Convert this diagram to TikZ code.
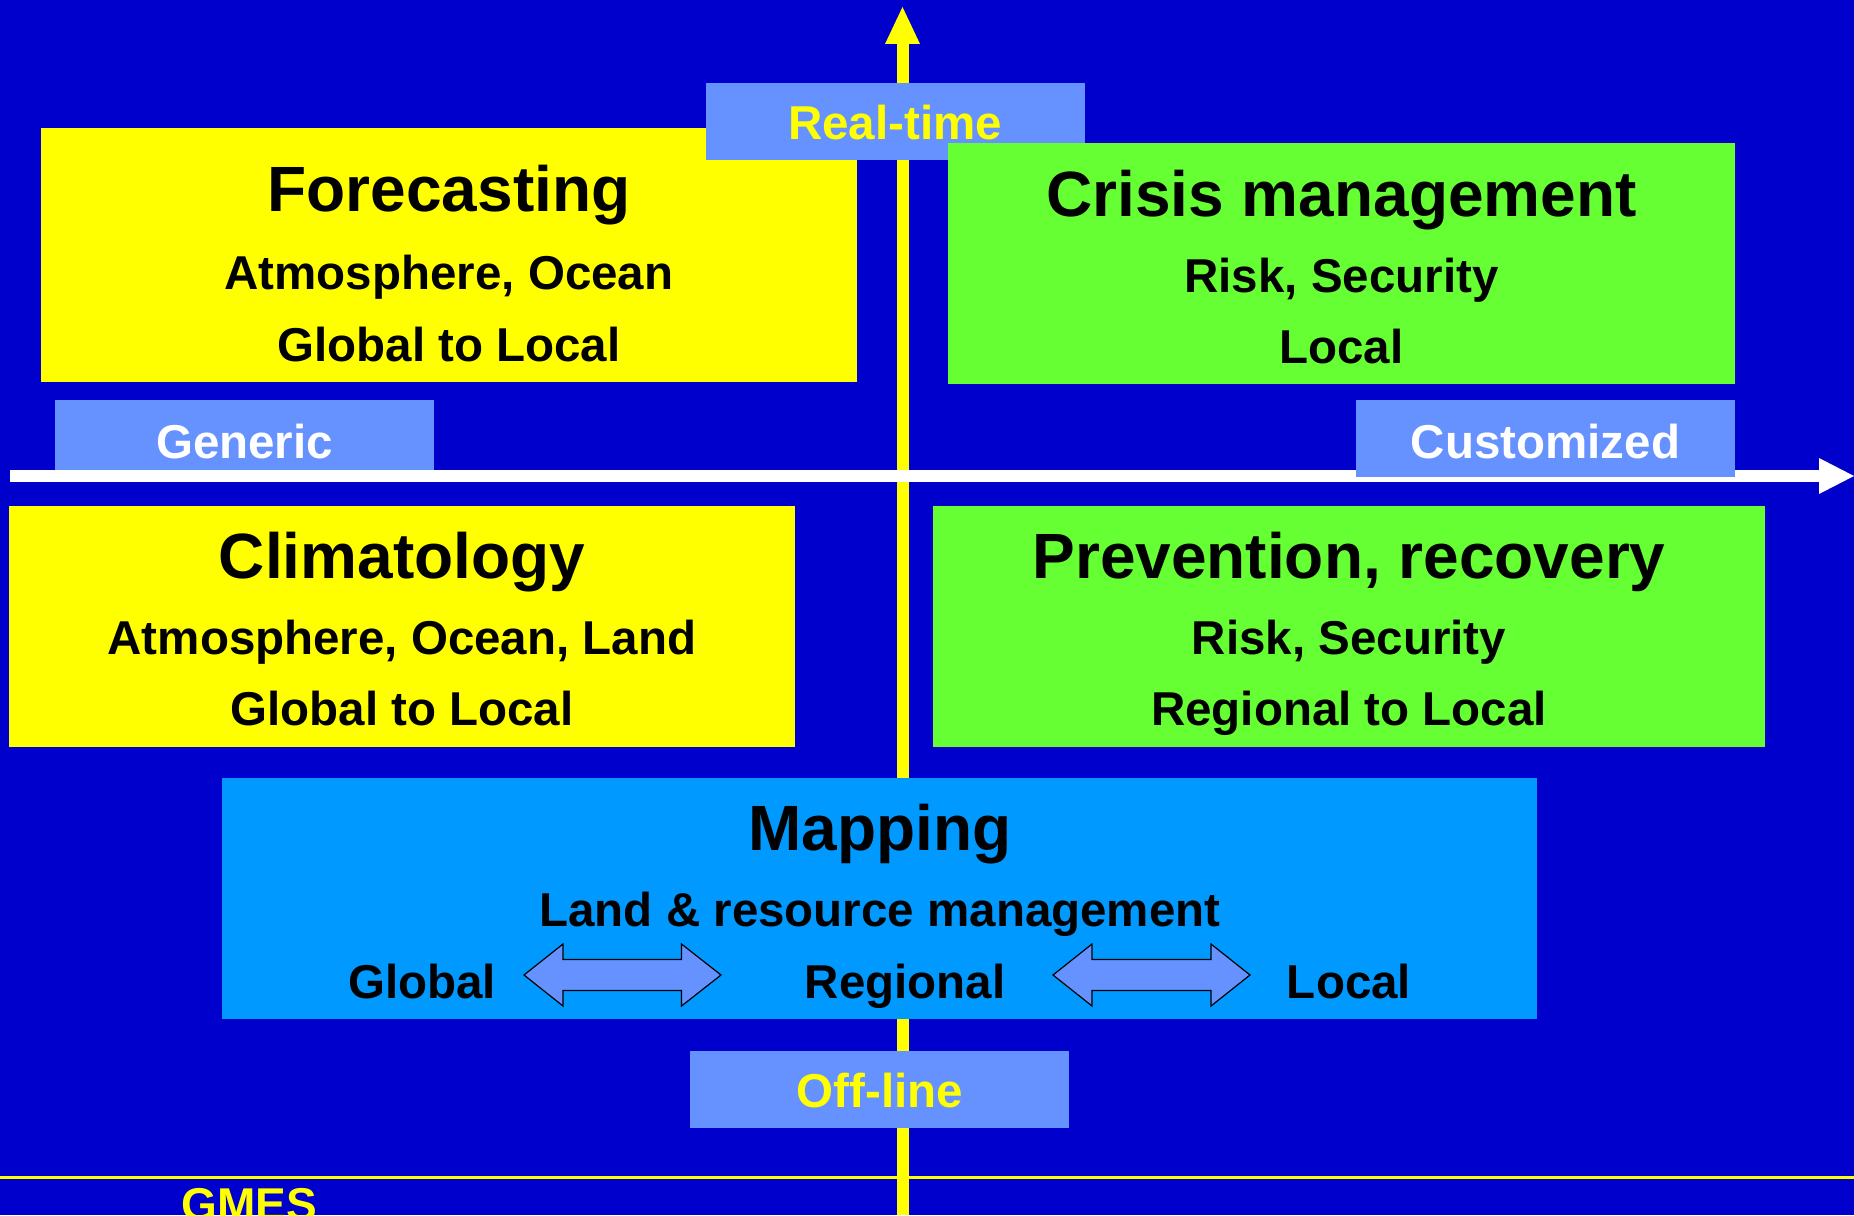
\documentclass[tikz,border=0pt]{standalone}
\usepackage{fontspec}
\setmainfont{Liberation Sans}
\definecolor{bgblue}{HTML}{0000CC}
\definecolor{ayellow}{HTML}{FFFF00}
\definecolor{agreen}{HTML}{66FF33}
\definecolor{lblblue}{HTML}{6692FF}
\definecolor{mapblue}{HTML}{0099FF}
\begin{document}
\begin{tikzpicture}[x=1pt,y=-1pt,
  box/.style={draw=none,inner sep=0pt,outer sep=0pt,rectangle},
  ttl/.style={anchor=base,inner sep=0pt,font=\fontsize{64}{70}\selectfont\bfseries,text=black},
  sub/.style={anchor=base,inner sep=0pt,font=\fontsize{47.5}{55}\selectfont\bfseries,text=black},
  lbl/.style={anchor=base,inner sep=0pt,font=\fontsize{47.5}{55}\selectfont\bfseries},
  dblarrow/.style={fill=lblblue,draw=black,line width=1.2pt,line join=miter}]
\useasboundingbox (0,0) rectangle (1854,1215);
\clip (0,0) rectangle (1854,1215);
\fill[bgblue] (0,0) rectangle (1854,1215);
% bottom thin line
\fill[ayellow] (0,1176) rectangle (1854,1179);
% vertical axis
\coordinate (vbot) at (902.5,1215);
\coordinate (vtip) at (902.5,7);
\fill[ayellow] (896.5,44) rectangle (908.5,1215);
\fill[ayellow] (885,44) -- (vtip) -- (920,44) -- cycle;
% quadrant boxes
\node[box,fill=ayellow,minimum width=816,minimum height=254] (fc) at (449,255) {};
\node[box,fill=lblblue,minimum width=379,minimum height=77] (rt) at (895.5,121.5) {};
\node[box,fill=agreen,minimum width=787,minimum height=241] (cm) at (1341.5,263.5) {};
\node[box,fill=ayellow,minimum width=786,minimum height=241] (cl) at (402,626.5) {};
\node[box,fill=agreen,minimum width=832,minimum height=241] (pr) at (1349,626.5) {};
% generic label under axis
\node[box,fill=lblblue,minimum width=379,minimum height=70] (gen) at (244.5,435) {};
% horizontal axis
\fill[white] (10,470) rectangle (1820,482);
\fill[white] (1819,458) -- (1854,476) -- (1819,494) -- cycle;
\coordinate (hleft) at (10,476);
\coordinate (htip) at (1854,476);
\node[box,fill=lblblue,minimum width=379,minimum height=77] (cu) at (1545.5,438.5) {};
% mapping and off-line
\node[box,fill=mapblue,minimum width=1315,minimum height=241] (mp) at (879.5,898.5) {};
\node[box,fill=lblblue,minimum width=379,minimum height=77] (ol) at (879.5,1089.5) {};
% double arrows
\draw[dblarrow] (524,975) -- (563,944) -- (563,959.5) -- (681.5,959.5) -- (681.5,944) -- (721,975)
  -- (681.5,1006) -- (681.5,990.5) -- (563,990.5) -- (563,1006) -- cycle;
\draw[dblarrow] (1053,975) -- (1092,944) -- (1092,959.5) -- (1211,959.5) -- (1211,944) -- (1250,975)
  -- (1211,1006) -- (1211,990.5) -- (1092,990.5) -- (1092,1006) -- cycle;
% texts
\node[ttl] (fc1) at (449,211) {Forecasting};
\node[sub] (fc2) at (449,289) {Atmosphere, Ocean};
\node[sub] (fc3) at (449,361) {Global to Local};
\node[ttl] (cm1) at (1341.5,216) {Crisis management};
\node[sub] (cm2) at (1341.5,292) {Risk, Security};
\node[sub] (cm3) at (1341.5,363) {Local};
\node[ttl] (cl1) at (402,578) {Climatology};
\node[sub] (cl2) at (402,654) {Atmosphere, Ocean, Land};
\node[sub] (cl3) at (402,725) {Global to Local};
\node[ttl] (pr1) at (1349,578) {Prevention, recovery};
\node[sub] (pr2) at (1349,654) {Risk, Security};
\node[sub] (pr3) at (1349,725) {Regional to Local};
\node[ttl] (mp1) at (880,850) {Mapping};
\node[sub] (mp2) at (880,926) {Land \& resource management};
\node[sub] (mpg) at (422,998) {Global};
\node[sub] (mpr) at (905,998) {Regional};
\node[sub] (mpl) at (1349,998) {Local};
\node[lbl,text=ayellow] (rtt) at (895,139) {Real-time};
\node[lbl,text=ayellow] (olt) at (880,1107) {Off-line};
\node[lbl,text=white] (gent) at (244.5,458) {Generic};
\node[lbl,text=white] (cut) at (1545.5,458) {Customized};
\node[anchor=base,inner sep=0pt,font=\fontsize{46}{50}\selectfont\bfseries,text=ayellow] (gmes) at (249,1220) {GMES};
\end{tikzpicture}
\end{document}
